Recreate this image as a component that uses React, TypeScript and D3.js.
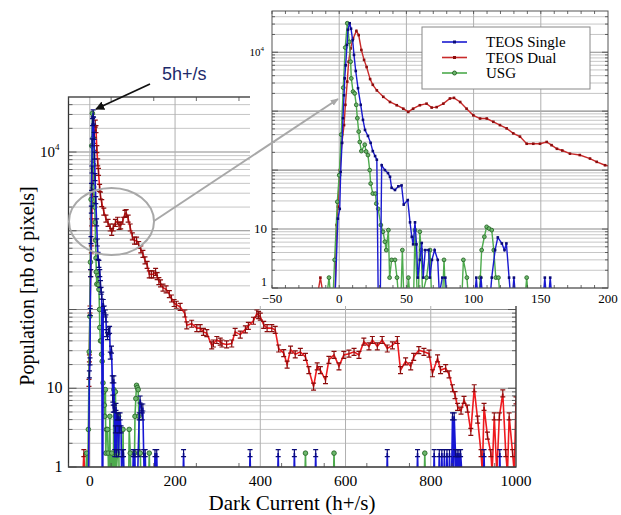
import * as d3 from "d3";
import React, { useEffect, useRef } from "react";

type Pt = [number, number];

// pixel counts per dark-current bin (0 = empty bin, drawn on the axis)
const teosSingle: Pt[] = [
    [-3, 0], [-1, 15], [0.4, 22], [1.1, 93], [2.1, 290], [2.8, 760], [3.6, 1860], [4.1, 3600],
    [4.8, 6000], [5.8, 13300], [6.5, 24000], [7.8, 31000], [8.8, 25000], [10, 16000], [11, 9000],
    [12.3, 4800], [14, 2450], [16, 1280], [17.7, 710], [19.2, 480], [21.4, 380], [23.4, 290],
    [25, 210], [26.7, 173], [28, 150], [31.6, 121], [34, 100], [36.3, 89], [37.8, 77], [39, 50],
    [41.5, 46], [44, 53], [46.4, 55], [48, 26], [51, 31], [52.7, 13], [54, 7.4], [55, 5.5],
    [56.4, 13], [57.5, 5.5], [58.5, 1.5], [60, 3], [61.4, 5.8], [62.5, 1.5], [64, 4.4], [66.5, 4.4],
    [67.5, 1.5], [69, 3], [71, 4.4], [73.3, 3], [74.5, 0], [76.7, 1.5], [79, 1.5], [80, 0],
    [102, 1.5], [105.5, 1.5], [113.5, 1.5], [116, 4.4], [118, 7.2], [121, 5.7], [123, 4.4],
    [124.4, 5.7], [126.4, 1.5], [130, 1.5], [131, 0],
    [849, 0], [851, 4.4], [855, 4.4], [858, 1.5], [862, 1.5], [866, 1.5], [870, 1.5], [873, 0],
];
const teosSingleSingles = [153, 157, 220, 376, 442, 480, 530, 698, 769, 808, 820, 826, 832, 838, 844, 925, 962];

const teosDual: Pt[] = [
    [-16, 0], [-14, 1.5], [-12, 0], [-3, 0], [-2, 11.7], [-1, 24], [0.4, 100], [2, 290], [3.6, 580],
    [4.6, 1280], [6, 3170], [7, 6900], [8.5, 11600], [10.3, 17000], [12.8, 23000], [14.5, 19500],
    [16.5, 10900], [18.5, 7400], [20.4, 5600], [23, 3500], [25, 2800], [28, 2250], [32.8, 1750],
    [37.8, 1430], [42.8, 1260], [47.7, 1100], [51.4, 970], [55, 1100], [60, 1260], [65, 1340],
    [68.8, 1150], [72.5, 1170], [77.5, 1340], [82.4, 1640], [85.4, 1680], [90, 1430], [94.8, 1100],
    [99.8, 850], [104.8, 750], [109.8, 750], [114.7, 660], [119.6, 580], [124.6, 510], [129.5, 420],
    [134.5, 370], [139.5, 280], [144.4, 280], [149.4, 280], [154.4, 300], [158, 265], [162, 230],
    [166, 215], [171.7, 190], [179, 180], [186.6, 157], [191.6, 138], [197.8, 121], [203, 115],
    [212, 108], [223, 89], [227.5, 63], [239, 66], [251, 58], [259, 58], [266.6, 52], [274.5, 50],
    [286, 35], [290, 37], [298, 41], [306, 39], [310, 37], [321, 36], [333, 37], [341, 52],
    [353, 48], [365, 56], [372, 62], [384, 72], [392, 89], [396, 85], [400, 81], [408, 64],
    [416, 58], [427, 58], [435, 55], [443, 32], [455, 28], [463, 20], [471, 31], [482, 27],
    [494, 29], [506, 25], [514, 17], [525, 10.5], [533.5, 19], [541, 17], [553, 12.7], [561, 23],
    [573, 26.5], [584.6, 19], [596, 26.5], [608, 27.5], [620, 29], [631.5, 26.5], [643, 39],
    [655, 34], [663, 41], [674.6, 34], [686, 41], [698, 32], [710, 35], [721.6, 41], [729, 17],
    [741, 22], [753, 19], [760, 25], [772, 30.5], [784, 29], [796, 27.5], [804, 15.5], [816, 24],
    [823, 17], [835, 18], [843, 15], [851, 10], [857, 8.2], [863, 5.8], [871, 5.2], [878, 7.1],
    [886, 5.5], [894, 2.8], [902, 10], [910, 4], [918, 1.5], [921, 0], [925, 5.8], [933, 2.5],
    [941, 1.5], [944, 0], [949, 4.4], [955, 0], [961, 4.4], [969, 8.6], [976, 1.5], [980, 0],
    [984, 4.4], [992, 1.5], [996, 0], [1000, 7],
];

const usg: Pt[] = [
    [-9, 0], [-7.6, 1.5], [-6.5, 0], [-4.5, 0], [-3.4, 3], [-1.4, 29], [0, 82], [1.5, 400], [3, 2500],
    [4.5, 12000], [6, 31000], [7.5, 15000], [8.5, 6900], [9, 3600], [10.3, 2150], [11.5, 2000],
    [12.7, 1280], [13.5, 760], [14.5, 450], [15.3, 300], [16.5, 210], [19, 270], [20, 207],
    [21.4, 180], [22.7, 100], [23.4, 59], [25, 40], [27, 40], [27.6, 27], [29, 22], [31, 11.7],
    [32.6, 9], [34, 6.1], [35, 4.4], [36.6, 9.6], [37.5, 1.5], [39, 3], [41.5, 3], [43, 1.5],
    [44, 0], [46, 0], [47, 4.4], [48, 0], [51.5, 1.5], [56.4, 9.6], [58, 0], [59, 0], [60, 9],
    [61, 4.4], [62, 0], [65, 1.5], [67.6, 4.4], [78, 3], [92.4, 3], [95, 1.5], [105, 1.5], [106, 4.4],
    [108, 7.4], [109.7, 10.9], [111.5, 10.2], [113.5, 9.6], [115, 4.4], [116.5, 1.5], [118.5, 1.5],
    [119.5, 0], [139.5, 1.5],
];
const usgSingles = [506, 573, 786];

const singleCount = 1.5;
const yDomain: [number, number] = [1, 5e4];
const mainXDomain: [number, number] = [-50, 1000];
const insetXDomain: [number, number] = [-50, 200];
const mainXTicks = [0, 200, 400, 600, 800, 1000];
const insetXTicks = [-50, 0, 50, 100, 150, 200];
const legendNames = ["TEOS Single", "TEOS Dual", "USG"];

const SERIF = "'Liberation Serif', 'Times New Roman', 'DejaVu Serif', serif";

function buildSeries(pts: Pt[], singles: number[], gap: number): Pt[] {
    const all: Pt[] = pts.slice();
    singles.forEach((x) => all.push([x - 1, 0], [x, singleCount], [x + 1, 0]));
    all.sort((a, b) => a[0] - b[0]);
    const out: Pt[] = [];
    all.forEach((p, i) => {
        out.push(p);
        const n = all[i + 1];
        // empty bins between two far-apart points fall back to the axis
        if (n && n[0] - p[0] > gap) {
            if (p[1] > 0) out.push([p[0] + 1, 0]);
            if (n[1] > 0) out.push([n[0] - 1, 0]);
        }
    });
    return out;
}

const series = [
    { name: "TEOS Dual", pts: buildSeries(teosDual, [], 14), line: "#ee1a1e", inset: "#c92a2a", mark: "#8c0d0d", shape: "bar" },
    { name: "USG", pts: buildSeries(usg, usgSingles, 3), line: "#4dab4d", inset: "#4dab4d", mark: "#2a682a", shape: "circle" },
    { name: "TEOS Single", pts: buildSeries(teosSingle, teosSingleSingles, 3), line: "#1616d4", inset: "#1a1ad0", mark: "#0a0a78", shape: "bar" },
];

function drawPanel(svg: any, o: any) {
    const x = d3.scaleLinear().domain(o.xDomain).range([o.left, o.right]);
    const y = d3.scaleLog().domain(yDomain).range([o.bottom, o.top]);
    const g = svg.append("g");

    // log grid: decades darker
    const levels: number[] = [];
    for (let k = 0; k < 5; k++) for (let m = 1; m < 10; m++) if (m * 10 ** k < yDomain[1]) levels.push(m * 10 ** k);
    const isDecade = (d: number) => Math.abs(Math.log10(d) % 1) < 1e-9;
    g.selectAll(".hg")
        .data(levels)
        .enter()
        .append("line")
        .attr("x1", o.left)
        .attr("x2", o.right)
        .attr("y1", (d: number) => y(d))
        .attr("y2", (d: number) => y(d))
        .attr("stroke", (d: number) => (isDecade(d) ? "#8a8a8a" : "#b8b8b8"))
        .attr("stroke-width", (d: number) => (isDecade(d) ? 1.1 : 0.8));
    g.selectAll(".vg")
        .data(o.xGrid)
        .enter()
        .append("line")
        .attr("x1", (d: number) => x(d))
        .attr("x2", (d: number) => x(d))
        .attr("y1", o.top)
        .attr("y2", o.bottom)
        .attr("stroke", "#b0b0b0")
        .attr("stroke-width", 1);

    svg.append("clipPath")
        .attr("id", o.id)
        .append("rect")
        .attr("x", o.left)
        .attr("y", o.top)
        .attr("width", o.right - o.left)
        .attr("height", o.bottom - o.top);
    const plot = g.append("g").attr("clip-path", `url(#${o.id})`);

    const yv = (v: number) => (v > 0 ? y(v) : o.bottom + 6);
    const line = d3
        .line<Pt>()
        .x((d) => x(d[0]))
        .y((d) => yv(d[1]));

    series.forEach((s) => {
        const pts = s.pts.filter((d) => d[0] >= o.xDomain[0] - 5 && d[0] <= o.xDomain[1] + 5);
        plot.append("path")
            .attr("d", line(pts))
            .attr("fill", "none")
            .attr("stroke", o.inset ? s.inset : s.line)
            .attr("stroke-width", o.inset ? 1.4 : 1.6);
        const marked = pts.filter((d) => d[1] > 0);
        if (s.shape === "circle") {
            plot.selectAll(null)
                .data(marked)
                .enter()
                .append("circle")
                .attr("cx", (d: Pt) => x(d[0]))
                .attr("cy", (d: Pt) => y(d[1]))
                .attr("r", o.inset ? 1.9 : 2.3)
                .attr("fill", "#6cb86c")
                .attr("stroke", s.mark)
                .attr("stroke-width", 0.9);
        } else if (o.inset) {
            plot.selectAll(null)
                .data(marked)
                .enter()
                .append("rect")
                .attr("x", (d: Pt) => x(d[0]) - 1.3)
                .attr("y", (d: Pt) => y(d[1]) - 1.3)
                .attr("width", 2.6)
                .attr("height", 2.6)
                .attr("fill", s.mark);
        } else {
            plot.selectAll(null)
                .data(marked)
                .enter()
                .append("path")
                .attr("d", (d: Pt) => {
                    const cx = x(d[0]);
                    const cy = y(d[1]);
                    return `M${cx - 2.5},${cy - 3.5}h5M${cx},${cy - 3.5}v7M${cx - 2.5},${cy + 3.5}h5`;
                })
                .attr("fill", "none")
                .attr("stroke", s.mark)
                .attr("stroke-width", 1.2);
        }
    });

    // frame + inward ticks
    g.append("rect")
        .attr("x", o.left)
        .attr("y", o.top)
        .attr("width", o.right - o.left)
        .attr("height", o.bottom - o.top)
        .attr("fill", "none")
        .attr("stroke", o.inset ? "#555" : "#333")
        .attr("stroke-width", o.inset ? 1 : 1.3);
    const tl = o.inset ? 3 : 4;
    g.selectAll(".yt")
        .data(levels)
        .enter()
        .append("path")
        .attr("d", (d: number) => {
            const len = isDecade(d) ? tl * 2 : tl;
            return `M${o.left},${y(d)}h${len}M${o.right},${y(d)}h${-len}`;
        })
        .attr("stroke", "#444")
        .attr("stroke-width", 0.8);
    g.selectAll(".xt")
        .data(d3.range(o.xDomain[0], o.xDomain[1], o.xMinor))
        .enter()
        .append("path")
        .attr("d", (d: number) => `M${x(d)},${o.bottom}v${-tl}M${x(d)},${o.top}v${tl}`)
        .attr("stroke", "#444")
        .attr("stroke-width", 0.8);

    // tick labels
    const fs = o.inset ? 13 : 16;
    g.selectAll(".xl")
        .data(o.xTicks)
        .enter()
        .append("text")
        .attr("x", (d: number) => x(d))
        .attr("y", o.bottom + (o.inset ? 15 : 19))
        .attr("text-anchor", "middle")
        .attr("font-family", SERIF)
        .attr("font-size", o.inset ? 13 : 15.5)
        .text((d: number) => (d < 0 ? `\u2212${-d}` : `${d}`));
    [1, 10].forEach((v) => {
        g.append("text")
            .attr("x", o.left - (o.inset ? 5 : 6))
            .attr("y", y(v) + (o.inset ? (v === 1 ? -2 : 4) : 5))
            .attr("text-anchor", "end")
            .attr("font-family", SERIF)
            .attr("font-size", o.inset && v === 1 ? 12 : fs)
            .text(v);
    });
    const e4 = g
        .append("text")
        .attr("x", o.left - (o.inset ? 8 : 9))
        .attr("y", y(1e4) + (o.inset ? 4 : 5))
        .attr("text-anchor", "end")
        .attr("font-family", SERIF)
        .attr("font-size", o.inset ? 11 : 15)
        .text("10");
    e4.append("tspan")
        .attr("dy", o.inset ? -5 : -7)
        .attr("font-size", o.inset ? 7 : 9)
        .text("4");
}

function drawChart(el: SVGSVGElement) {
    const svg = d3.select(el);
    svg.selectAll("*").remove();

    const defs = svg.append("defs");
    defs.append("marker")
        .attr("id", "headBlack")
        .attr("viewBox", "0 0 10 10")
        .attr("refX", 9)
        .attr("refY", 5)
        .attr("markerWidth", 9)
        .attr("markerHeight", 9)
        .attr("markerUnits", "userSpaceOnUse")
        .attr("orient", "auto")
        .append("path")
        .attr("d", "M0,0L10,5L0,10z")
        .attr("fill", "#111");
    defs.append("marker")
        .attr("id", "headGrey")
        .attr("viewBox", "0 0 10 10")
        .attr("refX", 9)
        .attr("refY", 5)
        .attr("markerWidth", 8)
        .attr("markerHeight", 8)
        .attr("markerUnits", "userSpaceOnUse")
        .attr("orient", "auto")
        .append("path")
        .attr("d", "M0,1L10,5L0,9z")
        .attr("fill", "#a8a8a8");

    drawPanel(svg, {
        id: "clipMain",
        inset: false,
        left: 68.5,
        right: 516,
        top: 97,
        bottom: 467,
        xDomain: mainXDomain,
        xTicks: mainXTicks,
        xGrid: [0, 200, 400, 600, 800],
        xMinor: 100,
    });

    svg.append("text")
        .attr("transform", "translate(34,286) rotate(-90)")
        .attr("text-anchor", "middle")
        .attr("font-family", SERIF)
        .attr("font-size", 20)
        .text("Population [nb of pixels]");
    svg.append("text")
        .attr("x", 292)
        .attr("y", 510)
        .attr("text-anchor", "middle")
        .attr("font-family", SERIF)
        .attr("font-size", 21)
        .text("Dark Current (h+/s)");

    // zoom inset sits on a white card over the main plot
    svg.append("rect").attr("x", 250).attr("y", 0).attr("width", 371).attr("height", 306).attr("fill", "#fff");
    drawPanel(svg, {
        id: "clipInset",
        inset: true,
        left: 272,
        right: 608,
        top: 11,
        bottom: 288,
        xDomain: insetXDomain,
        xTicks: insetXTicks,
        xGrid: [0, 50, 100, 150],
        xMinor: 10,
    });

    const legend = svg.append("g");
    legend.append("rect")
        .attr("x", 422)
        .attr("y", 27)
        .attr("width", 168)
        .attr("height", 62)
        .attr("fill", "#fff")
        .attr("stroke", "#888")
        .attr("stroke-width", 1);
    legendNames.forEach((name, i) => {
        const s = series.find((d) => d.name === name)!;
        const ly = 42 + i * 15.5;
        legend.append("line")
            .attr("x1", 442)
            .attr("x2", 467)
            .attr("y1", ly)
            .attr("y2", ly)
            .attr("stroke", s.inset)
            .attr("stroke-width", 1.6);
        if (s.shape === "circle") {
            legend.append("circle").attr("cx", 454.5).attr("cy", ly).attr("r", 2).attr("fill", "#6cb86c").attr("stroke", s.mark);
        } else {
            legend.append("rect").attr("x", 453).attr("y", ly - 1.5).attr("width", 3).attr("height", 3).attr("fill", s.mark);
        }
        legend.append("text")
            .attr("x", 486)
            .attr("y", ly + 5)
            .attr("font-family", SERIF)
            .attr("font-size", 15)
            .text(name);
    });

    // call-outs
    svg.append("ellipse")
        .attr("cx", 111.5)
        .attr("cy", 221.5)
        .attr("rx", 42.5)
        .attr("ry", 33.5)
        .attr("fill", "none")
        .attr("stroke", "#a8a8a8")
        .attr("stroke-width", 2);
    svg.append("line")
        .attr("x1", 154)
        .attr("y1", 221)
        .attr("x2", 338)
        .attr("y2", 99)
        .attr("stroke", "#a8a8a8")
        .attr("stroke-width", 2)
        .attr("marker-end", "url(#headGrey)");
    svg.append("line")
        .attr("x1", 150)
        .attr("y1", 84)
        .attr("x2", 96)
        .attr("y2", 109)
        .attr("stroke", "#111")
        .attr("stroke-width", 1.8)
        .attr("marker-end", "url(#headBlack)");
    svg.append("text")
        .attr("x", 162)
        .attr("y", 80)
        .attr("font-family", "'Liberation Sans', Arial, sans-serif")
        .attr("font-size", 18)
        .attr("fill", "#1d2a6b")
        .text("5h+/s");
}

export default function App() {
    const ref = useRef<SVGSVGElement>(null);
    useEffect(() => {
        if (ref.current) drawChart(ref.current);
    }, []);
    return (
        <svg
            ref={ref}
            width={621}
            height={515}
            style={{ position: "absolute", left: 0, top: 0, background: "#fff" }}
        />
    );
}
